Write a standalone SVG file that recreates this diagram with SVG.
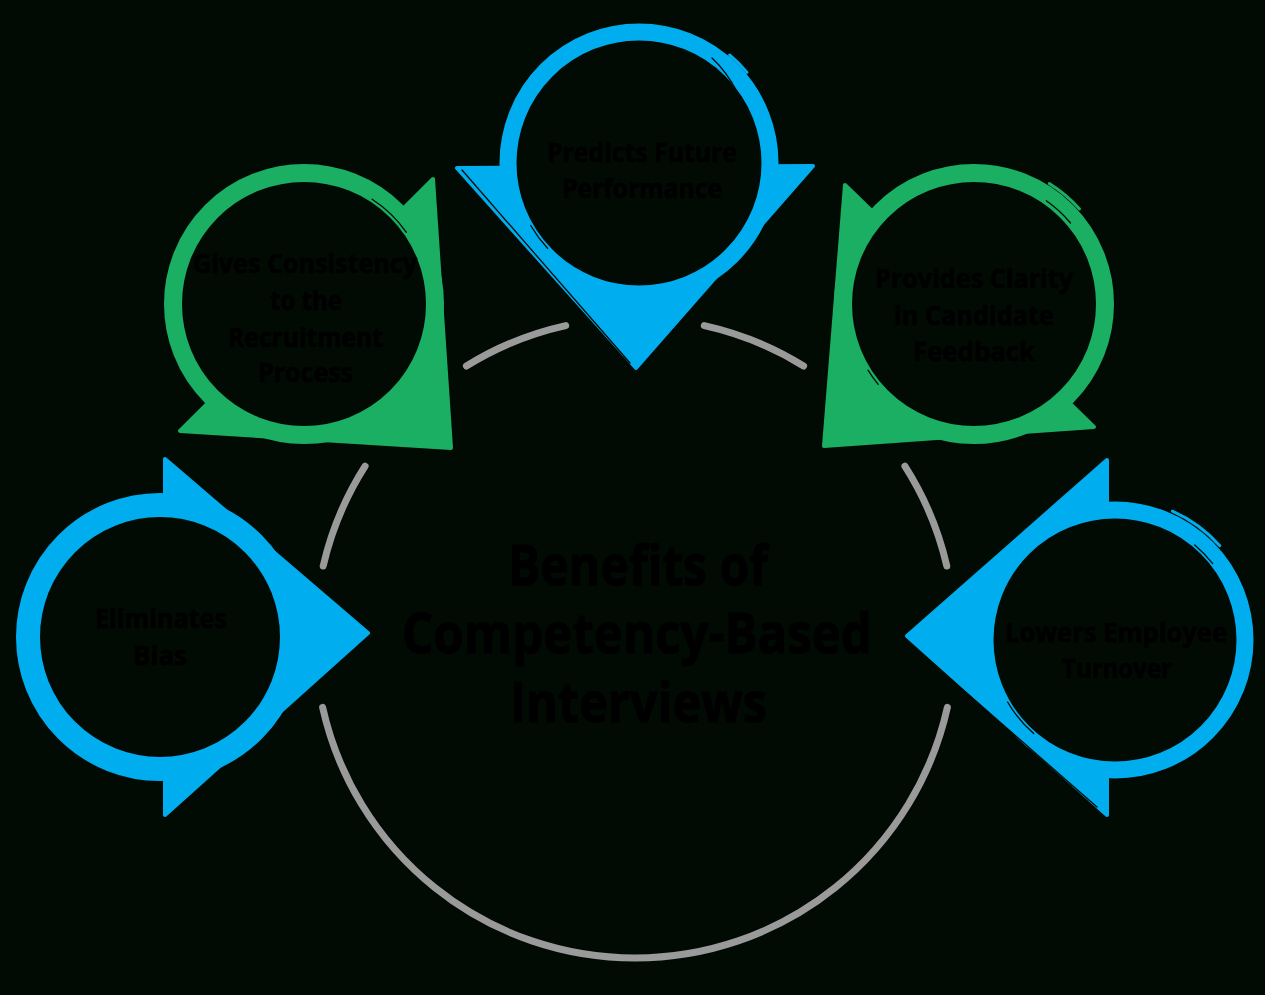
<svg xmlns="http://www.w3.org/2000/svg" width="1265" height="995" viewBox="0 0 1265 995">
  <style>
    .bg { fill: #010b04; }
    .blue { fill: #00aeef; stroke: #00aeef; stroke-width: 4; stroke-linejoin: round; }
    .green { fill: #1baf64; stroke: #1baf64; stroke-width: 4; stroke-linejoin: round; }
    .ringb { fill: #010b04; stroke: #00aeef; }
    .ringg { fill: #010b04; stroke: #1baf64; }
    .sliverb { fill: none; stroke: #00aeef; stroke-width: 3; stroke-linecap: round; }
    .sliverg { fill: none; stroke: #1baf64; stroke-width: 3; stroke-linecap: round; }
    .crease { fill: none; stroke: #010b04; stroke-width: 1.3; stroke-linecap: round; }
    .arc { fill: none; stroke: #9a9a9a; stroke-width: 7; stroke-linecap: round; }
    .lbl { font-family: "Open Sans", "Liberation Sans", sans-serif; font-weight: 700; font-size: 27px; fill: #000000; stroke: #000000; stroke-width: 0.5; text-anchor: middle; }
    .title { font-family: "Open Sans", "Liberation Sans", sans-serif; font-weight: 700; font-size: 55px; fill: #000000; stroke: #000000; stroke-width: 0.9; text-anchor: middle; }
  </style>
  <rect class="bg" x="0" y="0" width="1265" height="995"/>

  <g id="connectors">
    <path class="arc" d="M 466.4 366 A 320 320 0 0 1 565.7 325.6"/>
    <path class="arc" d="M 704.3 325.6 A 320 320 0 0 1 803.6 366"/>
    <path class="arc" d="M 323.2 566 A 320 320 0 0 1 365.1 466.1"/>
    <path class="arc" d="M 904.9 466.1 A 320 320 0 0 1 946.8 566"/>
    <path class="arc" d="M 947.4 707.3 A 320 320 0 0 1 322.6 707.3"/>
  </g>

  <g id="node-predicts">
    <polygon class="blue" points="457,168 813,166 636,368"/>
    <circle class="ringb" cx="639" cy="163" r="131" stroke-width="17"/>
    <path class="crease" d="M 462 170 L 630 363"/>
    <path class="sliverb" d="M 729.6 55 A 141 141 0 0 1 747 72.4"/>
    <path class="crease" d="M 712 58 Q 727 72 737 92"/>
    <path class="crease" d="M 530.7 225.5 A 125 125 0 0 0 547.6 248.3"/>
    <text class="lbl" x="642" y="162" textLength="190" lengthAdjust="spacingAndGlyphs">Predicts Future</text>
    <text class="lbl" x="642" y="198" textLength="160" lengthAdjust="spacingAndGlyphs">Performance</text>
  </g>

  <g id="node-consistency">
    <polygon class="green" points="433,179 451,448 180,431"/>
    <circle class="ringg" cx="304" cy="304" r="131" stroke-width="18"/>
    <path class="crease" d="M 372.1 199.2 A 125 125 0 0 1 406.4 232.3"/>
    <text class="lbl" x="305" y="273" textLength="224" lengthAdjust="spacingAndGlyphs">Gives Consistency</text>
    <text class="lbl" x="306" y="310" textLength="72" lengthAdjust="spacingAndGlyphs">to the</text>
    <text class="lbl" x="305.5" y="347" textLength="155" lengthAdjust="spacingAndGlyphs">Recruitment</text>
    <text class="lbl" x="305.5" y="382" textLength="95" lengthAdjust="spacingAndGlyphs">Process</text>
  </g>

  <g id="node-clarity">
    <polygon class="green" points="845,185 824,446 1094,427"/>
    <circle class="ringg" cx="974" cy="304" r="131" stroke-width="18"/>
    <path class="sliverg" d="M 1049.3 183.6 A 142 142 0 0 1 1079.5 209"/>
    <path class="crease" d="M 1046.3 200.8 A 126 126 0 0 1 1070.5 223"/>
    <path class="crease" d="M 868 370.2 A 125 125 0 0 0 878.2 384.4"/>
    <text class="lbl" x="974" y="288" textLength="198" lengthAdjust="spacingAndGlyphs">Provides Clarity</text>
    <text class="lbl" x="974" y="325" textLength="160" lengthAdjust="spacingAndGlyphs">in Candidate</text>
    <text class="lbl" x="974" y="361" textLength="122" lengthAdjust="spacingAndGlyphs">Feedback</text>
  </g>

  <g id="node-bias">
    <polygon class="blue" points="165,459 368,633 165,815"/>
    <circle class="ringb" cx="160" cy="637" r="132" stroke-width="24"/>
    <text class="lbl" x="161" y="628" textLength="132" lengthAdjust="spacingAndGlyphs">Eliminates</text>
    <text class="lbl" x="160" y="665" textLength="54" lengthAdjust="spacingAndGlyphs">Bias</text>
  </g>

  <g id="node-turnover">
    <polygon class="blue" points="1107,460 907,636 1107,815"/>
    <circle class="ringb" cx="1115" cy="640" r="130" stroke-width="17"/>
    <path class="crease" d="M 907 641 L 1097 807"/>
    <path class="sliverb" d="M 1172.4 511.2 A 141 141 0 0 1 1219.8 545.7"/>
    <path class="crease" d="M 1194.7 545 A 124 124 0 0 1 1212.7 563.6"/>
    <path class="crease" d="M 1007.6 702 A 124 124 0 0 0 1033.7 733.6"/>
    <text class="lbl" x="1116" y="642" textLength="222" lengthAdjust="spacingAndGlyphs">Lowers Employee</text>
    <text class="lbl" x="1117" y="678" textLength="110" lengthAdjust="spacingAndGlyphs">Turnover</text>
  </g>

  <g id="center-title">
    <text class="title" x="638" y="585" textLength="260" lengthAdjust="spacingAndGlyphs">Benefits of</text>
    <text class="title" x="637" y="653" textLength="470" lengthAdjust="spacingAndGlyphs">Competency-Based</text>
    <text class="title" x="638.5" y="722" textLength="257" lengthAdjust="spacingAndGlyphs">Interviews</text>
  </g>
</svg>
